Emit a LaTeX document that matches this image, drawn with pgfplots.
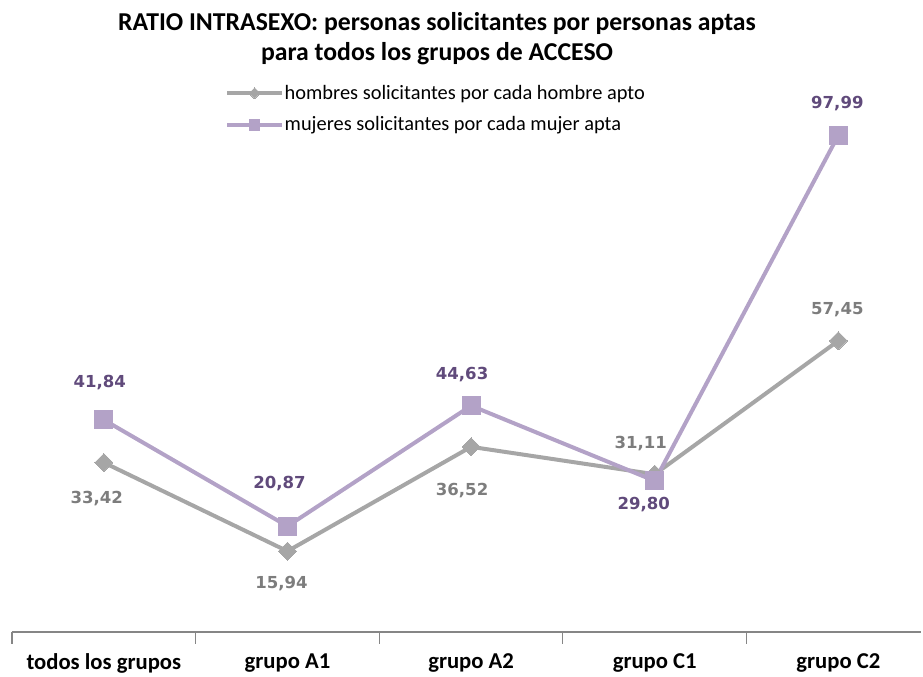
\documentclass[border=0pt]{standalone}
\usepackage{pgfplots}
\usepackage{pgfplotstable}
\pgfplotsset{compat=1.18}
\usepackage{fontspec}
\setmainfont{Carlito}
\newfontfamily\labfont{DejaVu Sans}
\definecolor{mgray}{RGB}{166,166,166}
\definecolor{mgraytxt}{RGB}{125,125,125}
\definecolor{wpurp}{RGB}{179,162,199}
\definecolor{wpurptxt}{RGB}{96,74,123}
\definecolor{axgray}{RGB}{134,134,134}

\pgfplotstableread{
x y dx dy
0 33.42 -7 -36
1 15.94 -6 -32
2 36.52 -9 -44
3 31.11 -14 31
4 57.45 -1 31
}\men
\pgfplotstableread{
x y dx dy
0 41.84 -4 37
1 20.87 -8 43
2 44.63 -9 31
3 29.80 -11 -24
4 97.99 -1 32
}\women

\pgfplotsset{
  lab/.style={
    nodes near coords={\pgfmathprintnumber[fixed,fixed zerofill,precision=2,use comma]{\pgfplotspointmeta}},
    point meta=explicit,
    visualization depends on={\thisrow{dx} \as \labdx},
    visualization depends on={\thisrow{dy} \as \labdy},
    every node near coord/.append style={anchor=center, xshift=\labdx*0.75pt, yshift=\labdy*0.75pt,
       font=\labfont\bfseries\fontsize{12.4}{14}\selectfont, text=#1},
  }
}

\begin{document}
\begin{tikzpicture}
\begin{axis}[
  at={(0pt,0pt)}, anchor=south west,
  scale only axis, width=681.75pt, height=380.25pt,
  xmin=-0.5, xmax=4.45, ymin=0, ymax=100,
  separate axis lines,
  axis x line=bottom, axis y line=none,
  x axis line style={-, draw=axgray, line width=0.8pt},
  xtick={0,1,2,3,4},
  xticklabels={todos los grupos, grupo A1, grupo A2, grupo C1, grupo C2},
  major tick length=0pt,
  xticklabel style={font=\bfseries\fontsize{17}{20}\selectfont, yshift=-13pt},
  extra x ticks={-0.5,0.5,1.5,2.5,3.5},
  extra x tick labels={},
  extra x tick style={major tick length=9pt, tick align=outside, tick style={draw=axgray, line width=0.8pt}},
  /pgf/number format/assume math mode=true,
  clip=false,
  legend style={at={(0.2297,1.0845)}, anchor=north west, draw=none, fill=none,
    font=\fontsize{15.3}{18}\selectfont, row sep=11.5pt,
    nodes={inner xsep=0.5pt, inner ysep=0pt}},
  legend cell align=left,
  legend image code/.code={\draw[mark repeat=2,mark phase=2,#1, every mark/.append style={scale=0.6}] plot coordinates {(0pt,0pt) (20.6pt,0pt) (41.25pt,0pt)};},
]
\addplot[draw=mgray, line width=3pt, mark=square*, mark size=4.8pt,
  mark options={fill=mgray, draw=mgray, rotate=45, line width=0pt},
  lab=mgraytxt]
  table[x=x,y=y,meta=y] {\men};
\addlegendentry{hombres solicitantes por cada hombre apto}
\addplot[draw=wpurp, line width=3pt, mark=square*, mark size=6.8pt,
  mark options={fill=wpurp, draw=wpurp, line width=0pt},
  lab=wpurptxt]
  table[x=x,y=y,meta=y] {\women};
\addlegendentry{mujeres solicitantes por cada mujer apta}
\end{axis}
\node[font=\bfseries\fontsize{19.3}{22.5}\selectfont, align=center] at (318.75pt,444.75pt)
  {RATIO INTRASEXO: personas solicitantes por personas aptas\\para todos los grupos de ACCESO};
\pgfresetboundingbox
\path[use as bounding box] (-9pt,-33.75pt) rectangle (683.25pt,474pt);
\end{tikzpicture}
\end{document}
